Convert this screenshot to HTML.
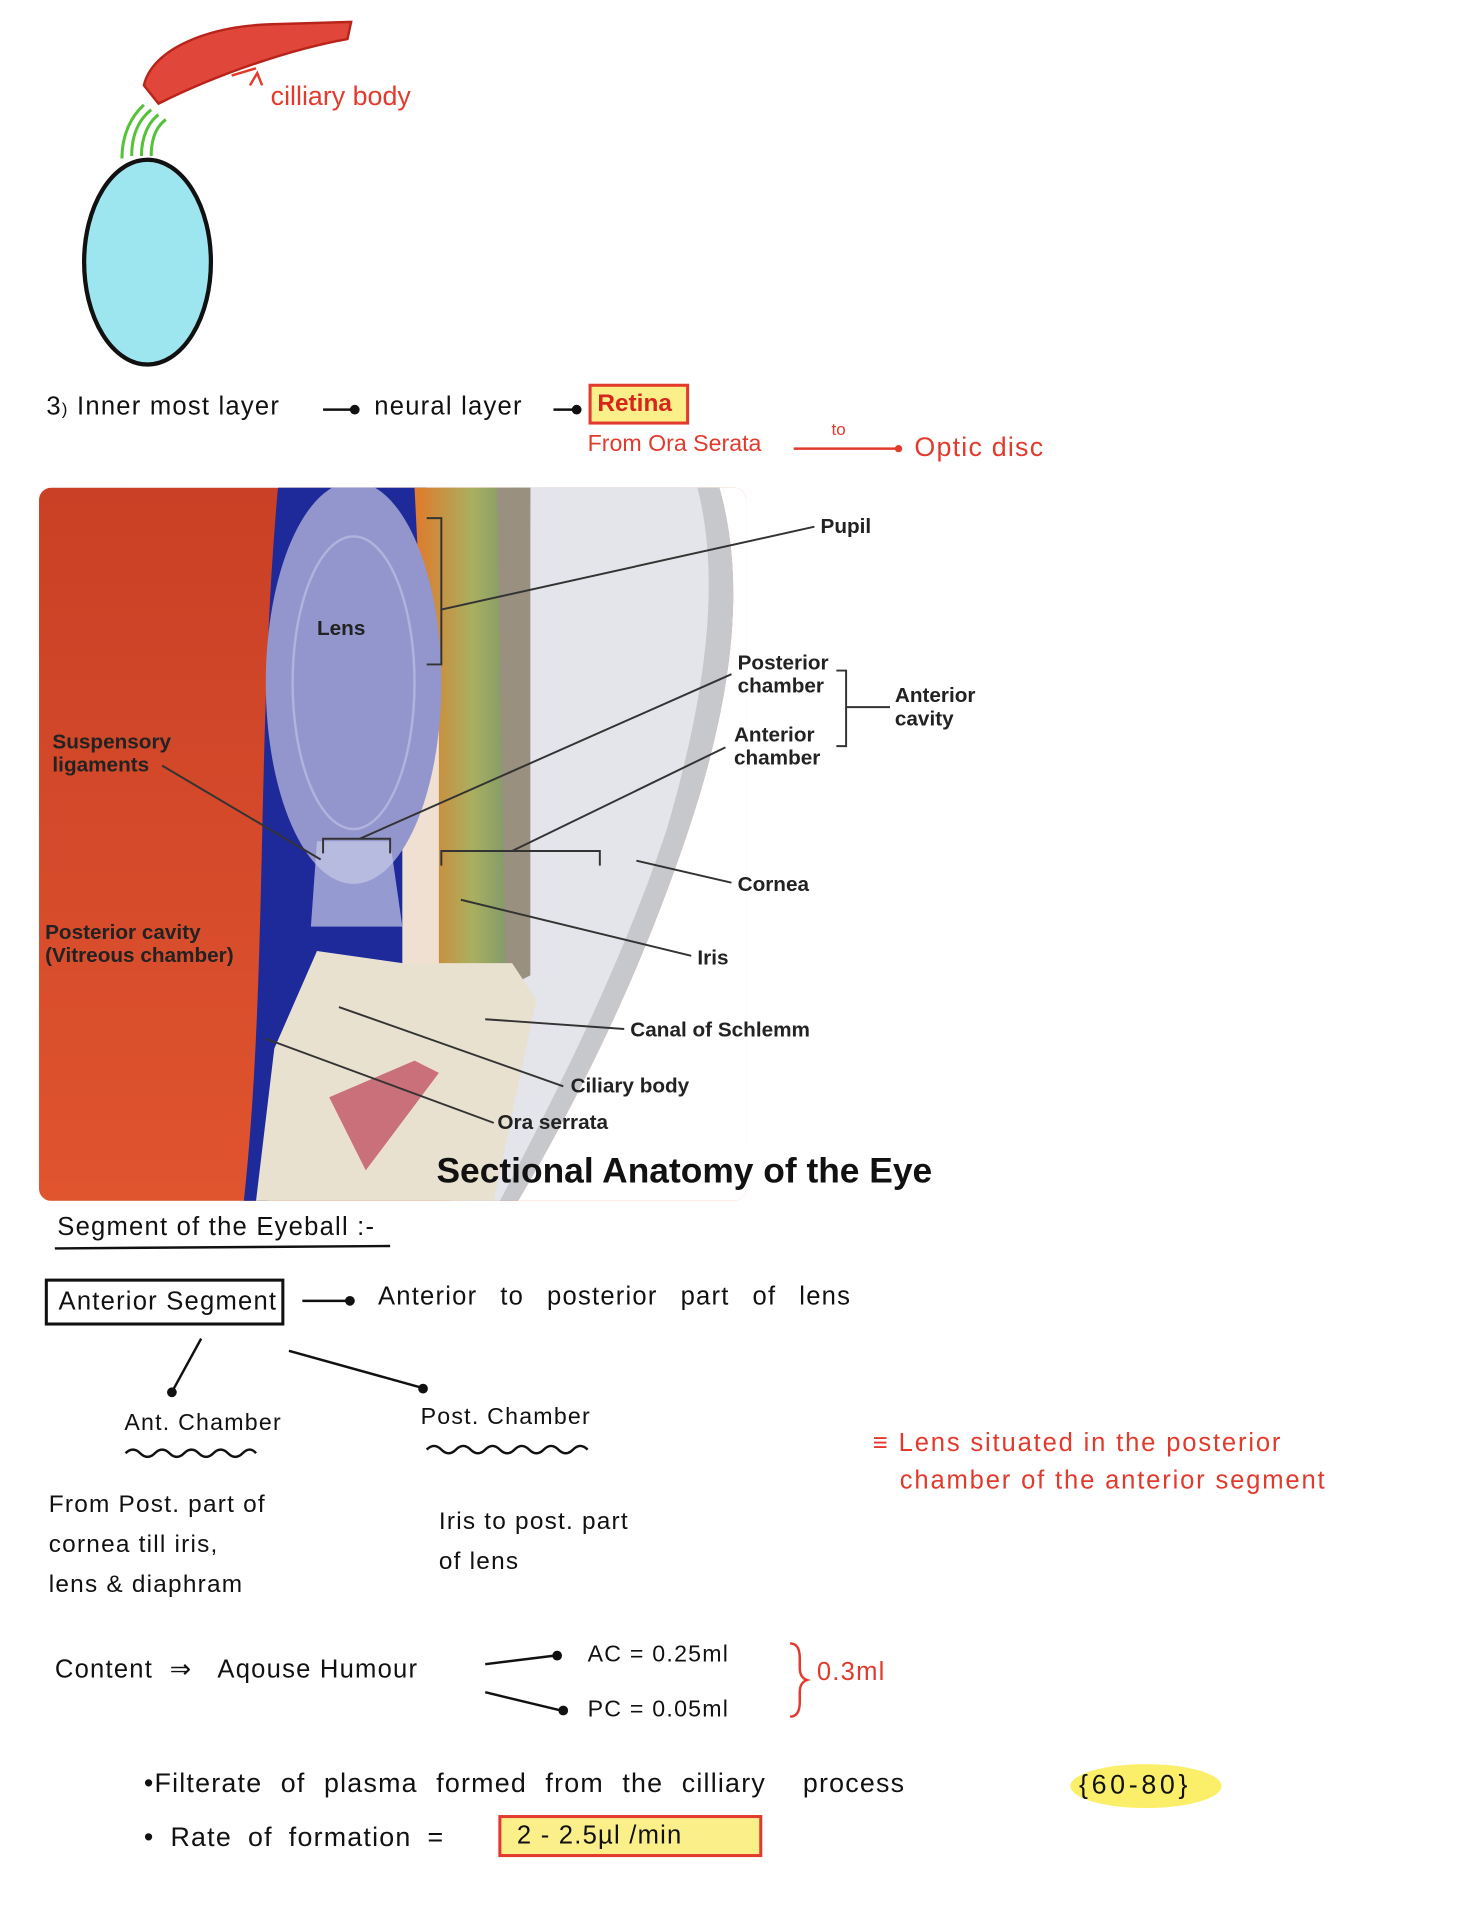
<!DOCTYPE html>
<html><head><meta charset="utf-8"><style>
html,body{margin:0;padding:0;background:#fff;}
#wrap{width:1463px;height:1920px;overflow:hidden;position:relative;}
#s{position:absolute;left:0;top:0;width:1200px;height:1575px;transform:scale(1.219167);transform-origin:0 0;}
.t{position:absolute;font-family:"Liberation Sans",sans-serif;white-space:nowrap;}
.h{font-size:21px;color:#111;letter-spacing:1px;}
.r{color:#e23a2c;}
.l{font-size:17px;font-weight:bold;color:#222;line-height:19px;}
</style></head><body><div id="wrap"><div id="s">
<svg width="1200" height="1575" style="position:absolute;left:0;top:0">
<path d="M118 70 C125 40 170 22 220 20 L288 18 L285 32 C240 40 180 60 130 85 Z" fill="#e0473a" stroke="#b8231a" stroke-width="2"/>
<path d="M190 62 l20 -6" stroke="#e23a2c" stroke-width="2"/>
<path d="M205 70 l6 -10 l4 10" fill="none" stroke="#e23a2c" stroke-width="2"/>
<g stroke="#55c23a" stroke-width="2.5" fill="none">
<path d="M100 130 C100 110 108 95 118 86"/><path d="M108 128 C108 110 114 98 124 90"/><path d="M116 128 C116 112 122 100 130 94"/><path d="M124 128 C124 114 128 104 136 98"/>
</g>
<ellipse cx="121" cy="215" rx="52" ry="84" fill="#9ee6ef" stroke="#111" stroke-width="3.5"/>
<g stroke="#111" stroke-width="2" fill="#111">
<line x1="265" y1="336" x2="290" y2="336"/><circle cx="291" cy="336" r="3"/>
<line x1="454" y1="336" x2="472" y2="336"/><circle cx="473" cy="336" r="3"/>
</g>
<rect x="484" y="316" width="80" height="31" fill="#fbef8a" stroke="#e23a2c" stroke-width="2.5"/>
<line x1="651" y1="368" x2="735" y2="368" stroke="#e23a2c" stroke-width="2"/><circle cx="737" cy="368" r="3" fill="#e23a2c"/>
<defs><clipPath id="pc"><rect x="32" y="400" width="580" height="585" rx="10"/></clipPath>
<linearGradient id="og" x1="0" y1="0" x2="0" y2="1"><stop offset="0" stop-color="#c94026"/><stop offset="1" stop-color="#e0542e"/></linearGradient>
<linearGradient id="ir" x1="0" y1="0" x2="1" y2="0"><stop offset="0" stop-color="#e07a2a"/><stop offset="0.5" stop-color="#a8b060"/><stop offset="1" stop-color="#6a8a70"/></linearGradient></defs>
<g clip-path="url(#pc)">
<rect x="32" y="400" width="580" height="585" fill="url(#og)"/>
<path d="M430 400 L590 400 C610 470 605 560 565 680 C525 800 475 900 425 985 L380 985 Z" fill="#c7c8cc"/>
<path d="M430 400 L572 400 C590 470 582 560 547 680 C510 790 460 890 410 985 L370 985 Z" fill="#e4e5ea"/>
<path d="M590 400 C610 470 605 560 565 680 C525 800 475 900 425 985 L615 985 L615 400 Z" fill="#fff"/>
<path d="M228 400 L350 400 L350 800 L300 840 L240 860 L220 985 L200 985 C220 800 210 600 228 400 Z" fill="#1e2a9a"/>
<path d="M340 400 L435 400 L432 800 L400 810 L360 800 Z" fill="url(#ir)"/>
<path d="M408 400 L435 400 L435 800 L415 810 Z" fill="#9a9080"/>
<path d="M330 570 L360 560 L360 790 L330 800 Z" fill="#efe0d2"/>
<path d="M225 860 L260 780 L330 790 L420 790 L440 820 L405 985 L210 985 Z" fill="#e9e1d0"/>
<path d="M270 900 L340 870 L360 880 L300 960 Z" fill="#c9707a"/>
<ellipse cx="290" cy="560" rx="72" ry="165" fill="#9396cc"/>
<ellipse cx="290" cy="560" rx="50" ry="120" fill="none" stroke="#b0b3dd" stroke-width="2"/>
<path d="M260 690 L320 690 L330 760 L255 760 Z" fill="#c8cbe8" opacity="0.7"/>
</g>
<g stroke="#333" stroke-width="1.6" fill="none">
<path d="M350 425 L362 425 L362 545 L350 545"/><line x1="362" y1="500" x2="668" y2="432"/>
<path d="M265 700 L265 688 L320 688 L320 700"/><line x1="295" y1="688" x2="600" y2="553"/>
<line x1="133" y1="628" x2="263" y2="705"/>
<path d="M362 710 L362 698 L492 698 L492 710"/><line x1="420" y1="698" x2="595" y2="613"/>
<line x1="522" y1="706" x2="600" y2="724"/>
<line x1="378" y1="738" x2="567" y2="784"/>
<line x1="398" y1="836" x2="512" y2="844"/>
<line x1="278" y1="826" x2="462" y2="891"/>
<line x1="218" y1="852" x2="405" y2="921"/>
<path d="M686 550 L694 550 L694 612 L686 612"/><line x1="694" y1="580" x2="730" y2="580"/>
</g>
<line x1="45" y1="1024" x2="320" y2="1022" stroke="#111" stroke-width="2"/>
<rect x="38" y="1050" width="194" height="36" fill="none" stroke="#111" stroke-width="2.5"/>
<g stroke="#111" stroke-width="2" fill="#111">
<line x1="248" y1="1067" x2="285" y2="1067"/><circle cx="287" cy="1067" r="3"/>
<line x1="165" y1="1098" x2="142" y2="1140"/><circle cx="141" cy="1142" r="3"/>
<line x1="237" y1="1108" x2="345" y2="1138"/><circle cx="347" cy="1139" r="3"/>
<line x1="398" y1="1365" x2="455" y2="1358"/><circle cx="457" cy="1358" r="3"/>
<line x1="398" y1="1388" x2="460" y2="1403"/><circle cx="462" cy="1403" r="3"/>
</g>
<path d="M103 1192 q6 -6 12 0 t12 0 t12 0 t12 0 t12 0 t12 0 t12 0 t12 0 t11 0" fill="none" stroke="#111" stroke-width="2"/>
<path d="M350 1189 q6 -6 12 0 t12 0 t12 0 t12 0 t12 0 t12 0 t12 0 t12 0 t12 0 t12 0 t12 0" fill="none" stroke="#111" stroke-width="2"/>
<path d="M648 1348 q8 0 8 12 v8 q0 8 6 10 q-6 2 -6 10 v8 q0 12 -8 12" fill="none" stroke="#e23a2c" stroke-width="2"/>
<ellipse cx="940" cy="1465" rx="62" ry="18" fill="#fbef6a"/>
<rect x="410" y="1490" width="214" height="32" fill="#fbef8a" stroke="#e23a2c" stroke-width="2.5"/>
</svg>
<div class="t r" style="left:222px;top:66px;font-size:22px;">cilliary body</div>
<div class="t h" style="left:38px;top:322px;">3<span style="font-size:14px">)</span> Inner most layer</div>
<div class="t h" style="left:307px;top:322px;">neural layer</div>
<div class="t" style="left:490px;top:320px;font-size:20px;color:#d6261c;font-weight:bold;">Retina</div>
<div class="t r" style="left:482px;top:354px;font-size:19px;">From Ora Serata</div>
<div class="t r" style="left:682px;top:344px;font-size:14px;">to</div>
<div class="t r" style="left:750px;top:354px;font-size:22px;letter-spacing:1px;">Optic disc</div>
<div class="t l" style="left:673px;top:422px;">Pupil</div>
<div class="t l" style="left:260px;top:506px;">Lens</div>
<div class="t l" style="left:605px;top:534px;">Posterior<br>chamber</div>
<div class="t l" style="left:734px;top:561px;">Anterior<br>cavity</div>
<div class="t l" style="left:602px;top:593px;">Anterior<br>chamber</div>
<div class="t l" style="left:43px;top:599px;color:#222;">Suspensory<br>ligaments</div>
<div class="t l" style="left:605px;top:716px;">Cornea</div>
<div class="t l" style="left:37px;top:755px;">Posterior cavity<br>(Vitreous chamber)</div>
<div class="t l" style="left:572px;top:776px;">Iris</div>
<div class="t l" style="left:517px;top:835px;">Canal of Schlemm</div>
<div class="t l" style="left:468px;top:881px;">Ciliary body</div>
<div class="t l" style="left:408px;top:911px;">Ora serrata</div>
<div class="t" style="left:358px;top:945px;font-size:29px;font-weight:bold;color:#111;">Sectional Anatomy of the Eye</div>
<div class="t h" style="left:47px;top:995px;">Segment of the Eyeball :-</div>
<div class="t h" style="left:48px;top:1056px;">Anterior Segment</div>
<div class="t h" style="left:310px;top:1052px;word-spacing:12px;">Anterior to posterior part of lens</div>
<div class="t h" style="left:102px;top:1157px;font-size:19px;">Ant. Chamber</div>
<div class="t h" style="left:345px;top:1152px;font-size:19px;">Post. Chamber</div>
<div class="t r" style="left:716px;top:1168px;font-size:21px;line-height:31px;letter-spacing:1.5px;">&#8801; Lens situated in the posterior<br>&nbsp;&nbsp;&nbsp;chamber of the anterior segment</div>
<div class="t h" style="left:40px;top:1218px;font-size:20px;line-height:33px;">From Post. part of<br>cornea till iris,<br>lens &amp; diaphram</div>
<div class="t h" style="left:360px;top:1232px;font-size:20px;line-height:33px;">Iris to post. part<br>of lens</div>
<div class="t h" style="left:45px;top:1357px;">Content &nbsp;&rArr; &nbsp;&nbsp;Aqouse Humour</div>
<div class="t h" style="left:482px;top:1347px;font-size:19px;">AC = 0.25ml</div>
<div class="t h" style="left:482px;top:1392px;font-size:19px;">PC = 0.05ml</div>
<div class="t r" style="left:670px;top:1360px;font-size:21px;letter-spacing:1px;">0.3ml</div>
<div class="t h" style="left:118px;top:1450px;font-size:22px;word-spacing:8px;">&bull;Filterate of plasma formed from the cilliary &nbsp;process</div>
<div class="t h" style="left:885px;top:1451px;font-size:22px;letter-spacing:3px;">{60-80}</div>
<div class="t h" style="left:118px;top:1494px;font-size:22px;word-spacing:6px;">&bull; Rate of formation =</div>
<div class="t h" style="left:424px;top:1494px;font-size:21px;">2 - 2.5µl /min</div>
</div></div></body></html>
